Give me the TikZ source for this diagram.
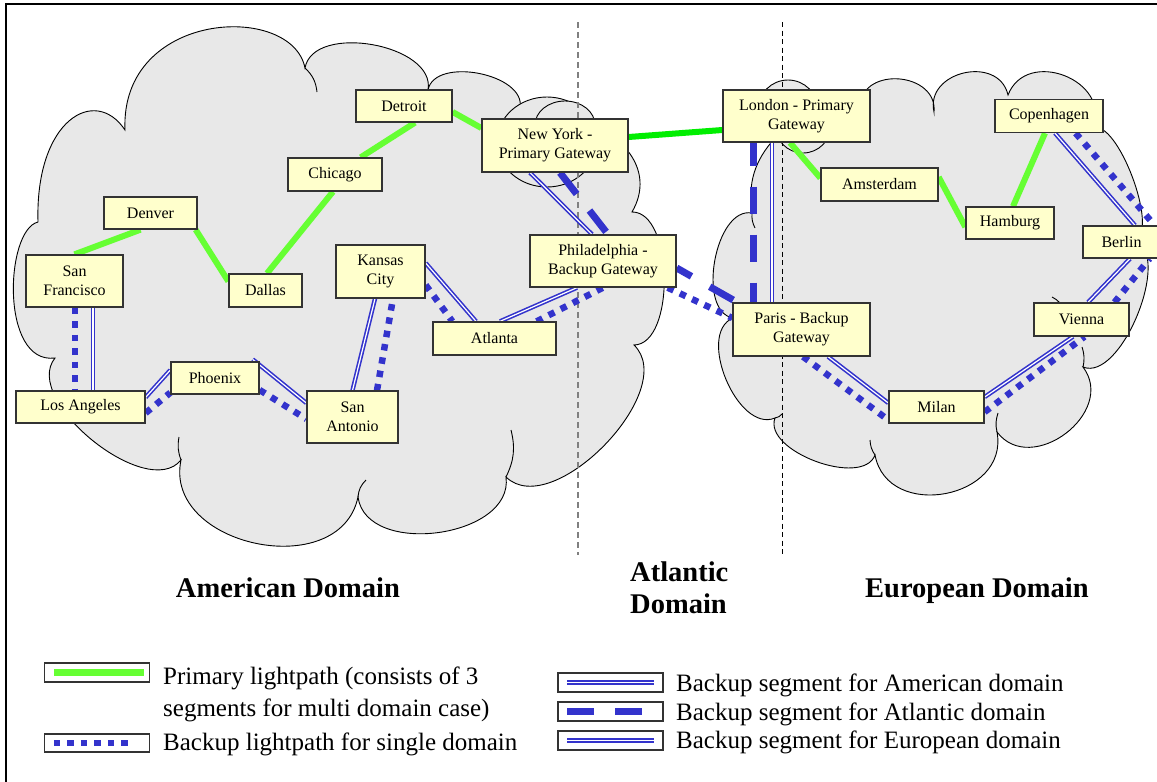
\documentclass[tikz,border=0pt]{standalone}
\usepackage{fontspec}
\setmainfont{Liberation Serif}
\pgfdeclarelayer{clouds}
\pgfdeclarelayer{links}
\pgfsetlayers{clouds,links,main}
\definecolor{pathgreen}{HTML}{66FF33}
\definecolor{linkgreen}{HTML}{00EE00}
\definecolor{backupblue}{HTML}{3333CC}
\definecolor{cloudgray}{HTML}{E8E8E8}
\definecolor{boxyellow}{HTML}{FFFFCC}
\definecolor{boxedge}{HTML}{333333}
\definecolor{sepgray}{HTML}{808080}
\tikzset{
  city/.style={draw=boxedge, fill=boxyellow, line width=1.3pt, inner sep=0pt,
    align=center, font=\fontsize{16}{19}\selectfont},
  cloudshape/.style={fill=cloudgray, draw=black, line width=0.9pt},
  cloudtail/.style={draw=black, line width=0.9pt},
  primary/.style={draw=pathgreen, line width=6pt},
  amer/.style={draw=backupblue, double=white, line width=1.6pt, double distance=1.2pt},
  euro/.style={amer},
  single/.style={draw=backupblue, line width=6.5pt, dash pattern=on 6.5pt off 7pt},
  atl/.style={draw=backupblue, line width=7pt, dash pattern=on 27pt off 21pt},
  domainlabel/.style={font=\fontsize{28.5}{32}\selectfont\bfseries, inner sep=0pt},
  legbox/.style={draw=boxedge, line width=1.3pt, minimum width=105pt, minimum height=19pt, inner sep=0pt},
  legtext/.style={font=\fontsize{25}{32}\selectfont, inner sep=0pt, align=left},
}
\begin{document}
\begin{tikzpicture}[x=1pt, y=1pt]
\useasboundingbox (0,0) rectangle (1157,-782);

% ---------- cities ----------
\node[city, minimum width=96pt,  minimum height=32pt] (detroit)    at (404,-106)    {Detroit};
\node[city, minimum width=146pt, minimum height=53pt] (ny)         at (555,-145.5)  {New York -\\Primary Gateway};
\node[city, minimum width=94pt,  minimum height=33pt] (chicago)    at (335,-174.5)  {Chicago};
\node[city, minimum width=93pt,  minimum height=32pt] (denver)     at (150.5,-213)  {Denver};
\node[city, minimum width=97pt,  minimum height=52pt] (sf)         at (74.5,-281)   {San\\Francisco};
\node[city, minimum width=73pt,  minimum height=33pt] (dallas)     at (265.5,-290.5){Dallas};
\node[city, minimum width=89pt,  minimum height=53pt] (kc)         at (380.5,-271.5){Kansas\\City};
\node[city, minimum width=146pt, minimum height=52pt] (philly)     at (603,-261)    {Philadelphia -\\Backup Gateway};
\node[city, minimum width=123pt, minimum height=33pt] (atlanta)    at (494.5,-338.5){Atlanta};
\node[city, minimum width=88pt,  minimum height=32pt] (phoenix)    at (215,-378)    {Phoenix};
\node[city, minimum width=129pt, minimum height=32pt] (la)         at (80.5,-407)   {Los Angeles};
\node[city, minimum width=91pt,  minimum height=52pt] (sa)         at (352.5,-417)  {San\\Antonio};
\node[city, minimum width=147pt, minimum height=52pt] (london)     at (796.5,-116)  {London - Primary\\Gateway};
\node[city, minimum width=117pt, minimum height=33pt] (amsterdam)  at (879.5,-184.5){Amsterdam};
\node[city, minimum width=88pt,  minimum height=32pt] (hamburg)    at (1010,-223)   {Hamburg};
\node[city, minimum width=108pt, minimum height=33pt] (copenhagen) at (1049,-116)   {Copenhagen};
\node[city, minimum width=77pt,  minimum height=32pt] (berlin)     at (1121.5,-242) {Berlin};
\node[city, minimum width=95pt,  minimum height=33pt] (vienna)     at (1081.5,-319.5){Vienna};
\node[city, minimum width=137pt, minimum height=53pt] (paris)      at (801.5,-329.5){Paris - Backup\\Gateway};
\node[city, minimum width=95pt,  minimum height=32pt] (milan)      at (936.5,-407)  {Milan};

% ---------- domain clouds ----------
\begin{pgfonlayer}{clouds}
\path[cloudshape] (38,-222)
  .. controls (35,-120) and (95,-85) .. (125,-130)
  .. controls (120,-10) and (292,-2) .. (305,-68)
  to[bend left=90, looseness=0.95] (428,-90)
  to[bend left=90, looseness=0.95] (520,-108)
  to[bend left=25] (627,-150)
  to[bend left=35] (632,-212)
  to[bend left=90, looseness=0.8]  (634,-345)
  to[bend left=90, looseness=0.9]  (506,-477)
  to[bend left=90, looseness=1.05] (358,-497)
  to[bend left=90, looseness=1.25] (181,-460)
  to[bend left=90, looseness=0.85] (55,-358)
  .. controls (0,-365) and (5,-230) .. (38,-222) -- cycle;
\draw[cloudtail] (305,-68) to[bend left=20] (317,-92);
\draw[cloudtail] (511,-430) to[bend left=20] (506,-477);
\draw[cloudtail] (358,-497) to[bend left=20] (366,-480);
\draw[cloudtail] (181,-460) to[bend left=15] (179,-437);

\path[cloudshape] (775,-138)
  to[bend right=25] (752,-213)
  to[bend right=90, looseness=0.9]  (733,-318)
  to[bend right=90, looseness=0.95] (775,-418)
  to[bend right=90, looseness=0.85] (875,-455)
  to[bend right=90, looseness=1.4]  (997,-432)
  to[bend right=90, looseness=1.35] (1083,-367)
  to[bend right=90, looseness=0.76] (1135,-240)
  to[bend right=90, looseness=0.56] (1093,-128)
  to[bend right=90, looseness=1.44] (1008,-95)
  to[bend right=90, looseness=1.41] (934,-112)
  to[bend right=90, looseness=1.36] (860,-105)
  -- (775,-138) -- cycle;
\draw[cloudtail] (752,-213) to[bend right=15] (755,-228);
\draw[cloudtail] (775,-418) to[bend right=20] (782,-414);
\draw[cloudtail] (870,-440) to[bend right=15] (875,-455);
\draw[cloudtail] (998,-413) to[bend right=15] (997,-432);
\draw[cloudtail] (1083,-367) to[bend right=15] (1082,-347);
\draw[cloudtail] (1052,-297) to[bend left=10] (1060,-303);

% gateway clouds
\path[cloudshape] (547,-142) ellipse [x radius=50pt, y radius=45pt];
\path[cloudshape] (565,-125) ellipse [x radius=30pt, y radius=24pt];
\path[cloudshape] (788,-110) circle [radius=30pt];
\path[cloudshape] (803,-125) circle [radius=28pt];
\end{pgfonlayer}

% ---------- domain borders and lightpaths ----------
\begin{pgfonlayer}{links}
\draw[sepgray, line width=1.2pt, dash pattern=on 6pt off 4pt] (578,-22) -- (578,-555);
\draw[black, line width=1pt, dash pattern=on 5pt off 3.5pt] (782,-22) -- (782,-555);

% primary lightpath
\draw[primary] (sf.north) -- ([xshift=-10pt]denver.south);
\draw[primary] ([xshift=-2pt]denver.south east) -- ([yshift=-8pt]dallas.north west);
\draw[primary] ([xshift=1.5pt]dallas.north) -- ([xshift=-2pt]chicago.south);
\draw[primary] ([xshift=-22pt]chicago.north east) -- ([xshift=11pt]detroit.south);
\draw[primary] ([yshift=-6pt]detroit.east) -- ([yshift=17.5pt]ny.west);
\draw[primary, draw=linkgreen] ([yshift=8.5pt]ny.east) -- ([yshift=-14pt]london.west);
\draw[primary] ([xshift=-6.5pt]london.south) -- ([yshift=6.5pt]amsterdam.west);
\draw[primary] ([yshift=7.5pt]amsterdam.east) -- ([yshift=-4pt]hamburg.west);
\draw[primary] ([xshift=3pt]hamburg.north) -- ([xshift=-4pt]copenhagen.south);

% backup segment, American domain
\draw[amer] ([xshift=18.5pt]sf.south) -- ([xshift=12.5pt]la.north);
\draw[amer] ([yshift=-7pt]la.north east) -- ([yshift=8pt]phoenix.west);
\draw[amer] ([xshift=-7pt,yshift=2pt]phoenix.north east) -- ([yshift=14pt]sa.west);
\draw[amer] (sa.north) -- ([xshift=-5.5pt]kc.south);
\draw[amer] ([yshift=8.5pt]kc.east) -- ([xshift=-18.5pt]atlanta.north);
\draw[amer] ([xshift=5.5pt]atlanta.north) -- ([xshift=-26pt]philly.south);
\draw[amer] ([xshift=-25pt]ny.south) -- ([xshift=-11pt]philly.north);

% backup lightpath, single domain
\draw[single] ([xshift=0.5pt]sf.south) -- ([xshift=-5.5pt]la.north);
\draw[single] ([yshift=-6pt]la.east) -- ([yshift=2pt]phoenix.south west);
\draw[single] ([yshift=-12pt]phoenix.east) -- ([yshift=-2pt]sa.west);
\draw[single] ([xshift=24.5pt]sa.north) -- ([xshift=12.5pt]kc.south);
\draw[single] ([yshift=-13.5pt]kc.east) -- ([xshift=20pt]atlanta.north west);
\draw[single] ([xshift=-20pt]atlanta.north east) -- (philly.south);
\draw[single] ([xshift=-9pt]philly.south east) -- ([yshift=11.5pt]paris.west);
\draw[single] ([xshift=1.5pt]paris.south) -- ([yshift=-13pt]milan.west);
\draw[single] ([yshift=-5pt]milan.east) -- ([xshift=3pt]vienna.south);
\draw[single] ([xshift=33pt]vienna.north) -- ([xshift=28pt]berlin.south);
\draw[single] ([xshift=-28pt]copenhagen.south east) -- ([xshift=-6pt]berlin.north east);

% backup segment, European domain
\draw[euro] ([xshift=-24.5pt]london.south) -- ([xshift=-29.5pt]paris.north);
\draw[euro] ([xshift=26.5pt]paris.south) -- ([yshift=4pt]milan.west);
\draw[euro] ([yshift=10pt]milan.east) -- ([xshift=-8.5pt]vienna.south);
\draw[euro] ([xshift=6.5pt]vienna.north) -- ([xshift=8.5pt]berlin.south);
\draw[euro] ([xshift=6pt]copenhagen.south) -- ([xshift=13.5pt]berlin.north);

% backup segment, Atlantic domain
\draw[atl] ([xshift=5pt]ny.south) -- ([xshift=5pt]philly.north);
\draw[atl, dash phase=10pt] ([yshift=-7pt]philly.east) -- ([xshift=5pt]paris.north west);
\draw[atl, dash phase=4pt] ([xshift=-43.5pt]london.south) -- ([xshift=-48.5pt]paris.north);
\end{pgfonlayer}

% ---------- domain names ----------
\node[domainlabel, anchor=base] (amdom) at (288,-597) {American Domain};
\node[domainlabel, align=left, anchor=west] (atdom) at (630,-588) {Atlantic\\Domain};
\node[domainlabel, anchor=base] (eudom) at (977,-597) {European Domain};

% ---------- legend ----------
\node[legbox] (lgprim) at (97,-672.5) {};
\draw[primary, line width=7.5pt] ([xshift=10pt]lgprim.west) -- ([xshift=-6pt]lgprim.east);
\node[legtext, anchor=base west] (txprim) at (163,-716) {Primary lightpath (consists of 3\\segments for multi domain case)};
\node[legbox, minimum height=18pt] (lgsingle) at (97,-743) {};
\draw[single] ([xshift=10pt]lgsingle.west) -- ([xshift=-16pt]lgsingle.east);
\node[legtext, anchor=base west] (txsingle) at (163,-750) {Backup lightpath for single domain};

\node[legbox] (lgamer) at (610.5,-682.5) {};
\draw[amer] ([xshift=10pt]lgamer.west) -- ([xshift=-10pt]lgamer.east);
\node[legtext, anchor=base west] (txamer) at (676,-691) {Backup segment for American domain};
\node[legbox] (lgatl) at (610.5,-711.5) {};
\draw[atl] ([xshift=10pt]lgatl.west) -- ([xshift=-16pt]lgatl.east);
\node[legtext, anchor=base west] (txatl) at (676,-720) {Backup segment for Atlantic domain};
\node[legbox] (lgeuro) at (610.5,-740.5) {};
\draw[euro] ([xshift=10pt]lgeuro.west) -- ([xshift=-10pt]lgeuro.east);
\node[legtext, anchor=base west] (txeuro) at (676,-748) {Backup segment for European domain};

% frame
\draw[line width=1.5pt] (6,-4) rectangle (1175,-800);
\end{tikzpicture}
\end{document}
